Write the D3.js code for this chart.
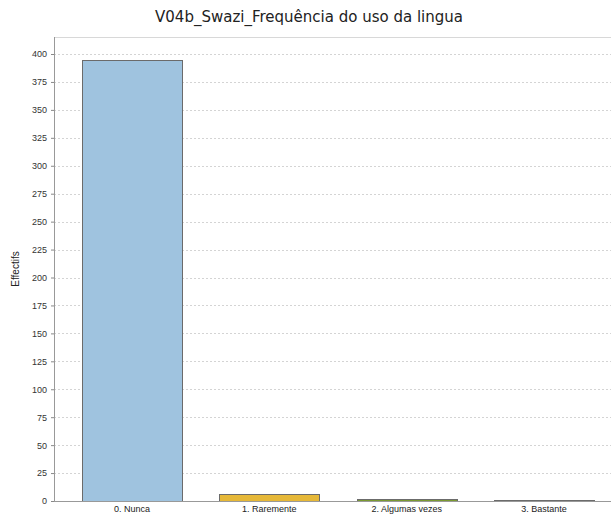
<!DOCTYPE html>
<html>
<head>
<meta charset="utf-8">
<script src="https://cdn.jsdelivr.net/npm/d3@7"></script>
<style>
  html, body { margin: 0; padding: 0; background: #fff; }
  svg { display: block; }
</style>
</head>
<body>
<script>
// Frequency of use of the Swazi language
const categories = ["0. Nunca", "1. Raremente", "2. Algumas vezes", "3. Bastante"];
const counts = [395, 6, 2, 1];
const barColors = ["#9fc3df", "#e6b838", "#7b9a32", "#5a5a5a"];
const yTicks = d3.range(0, 401, 25);

const W = 611, H = 515;
const plot = { left: 54, right: 611, top: 37, bottom: 501 };

const svg = d3.select("body").append("svg")
  .attr("width", W).attr("height", H);

const x = d3.scaleBand()
  .domain(categories)
  .range([plot.left, 622])
  .paddingInner(0.272)
  .paddingOuter(0.204);

const y = d3.scaleLinear()
  .domain([0, 400])
  .range([plot.bottom, 54]);

// Title
svg.append("text")
  .attr("x", 309).attr("y", 22)
  .attr("text-anchor", "middle")
  .attr("font-family", "Tahoma, 'DejaVu Sans', sans-serif")
  .attr("font-size", 15)
  .attr("fill", "#222")
  .text("V04b_Swazi_Frequência do uso da lingua");

// Plot frame (top edge)
svg.append("line")
  .attr("x1", plot.left).attr("x2", plot.right)
  .attr("y1", plot.top + 0.5).attr("y2", plot.top + 0.5)
  .attr("stroke", "#d8d8d8");

// Horizontal dotted gridlines
svg.append("g")
  .selectAll("line")
  .data(yTicks.filter(d => d > 0))
  .join("line")
  .attr("x1", plot.left).attr("x2", plot.right)
  .attr("y1", d => Math.round(y(d)) + 0.5)
  .attr("y2", d => Math.round(y(d)) + 0.5)
  .attr("stroke", "#d4d4d4")
  .attr("stroke-dasharray", "2,2");

// Bars
svg.append("g")
  .selectAll("rect")
  .data(counts)
  .join("rect")
  .attr("x", (d, i) => Math.round(x(categories[i])) + 0.5)
  .attr("y", d => Math.round(y(d)) + 0.5)
  .attr("width", Math.round(x.bandwidth()))
  .attr("height", d => Math.max(0, Math.round(y(0)) - Math.round(y(d))))
  .attr("fill", (d, i) => barColors[i])
  .attr("stroke", "#6b6b6b")
  .attr("stroke-width", 1);

// Y axis
const yAxis = svg.append("g")
  .attr("transform", `translate(${plot.left},0)`)
  .call(d3.axisLeft(y).tickValues(yTicks).tickSize(3).tickPadding(4));
yAxis.select(".domain").remove();
yAxis.selectAll(".tick line").attr("stroke", "#888");
yAxis.selectAll(".tick text")
  .attr("font-family", "Arial, 'Liberation Sans', sans-serif")
  .attr("font-size", 9)
  .attr("fill", "#333");

svg.append("line")
  .attr("x1", plot.left + 0.5).attr("x2", plot.left + 0.5)
  .attr("y1", plot.top).attr("y2", plot.bottom + 1)
  .attr("stroke", "#999");

// X axis baseline and category labels
svg.append("line")
  .attr("x1", plot.left).attr("x2", plot.right)
  .attr("y1", plot.bottom + 0.5).attr("y2", plot.bottom + 0.5)
  .attr("stroke", "#999");

const xAxis = svg.append("g")
  .attr("transform", `translate(0,${plot.bottom})`)
  .call(d3.axisBottom(x).tickSize(0).tickPadding(5));
xAxis.select(".domain").remove();
xAxis.selectAll(".tick text")
  .attr("font-family", "Arial, 'Liberation Sans', sans-serif")
  .attr("font-size", 9)
  .attr("fill", "#222");

// Y axis title
svg.append("text")
  .attr("transform", `translate(19,${(plot.top + plot.bottom) / 2}) rotate(-90)`)
  .attr("text-anchor", "middle")
  .attr("font-family", "Arial, 'Liberation Sans', sans-serif")
  .attr("font-size", 10)
  .attr("fill", "#222")
  .text("Effectifs");
</script>
</body>
</html>
